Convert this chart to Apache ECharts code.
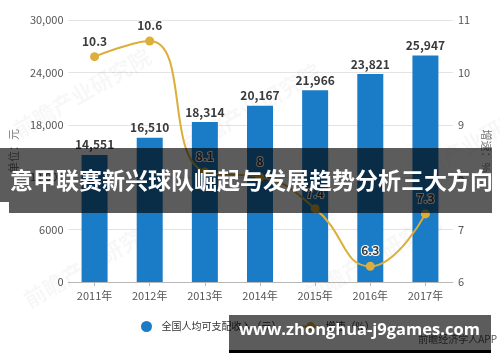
<!DOCTYPE html>
<html>
<head>
<meta charset="utf-8">
<script src="https://cdn.jsdelivr.net/npm/echarts@6/dist/echarts.min.js"></script>
<style>
html,body{margin:0;padding:0;background:#fff;}
#chart{width:500px;height:362px;}
</style>
</head>
<body>
<div id="chart"></div>
<script>
const years = ['2011年','2012年','2013年','2014年','2015年','2016年','2017年'];
const income = [14551, 16510, 18314, 20167, 21966, 23821, 25947];
const growth = [10.3, 10.6, 8.1, 8, 7.4, 6.3, 7.3];
const incomeTicks = ['0','6000','12,000','18,000','24,000','30,000'];
const growthTicks = ['6','7','8','9','10','11'];
const seriesNames = ['全国人均可支配收入（元）','增速（%）'];
const titleText = '意甲联赛新兴球队崛起与发展趋势分析三大方向';
const siteText = 'www.zhonghua-j9games.com';
const sourceText = '前瞻经济学人APP';
const watermark = '前瞻产业研究院';

const FONT = '"Noto Sans CJK SC", "Noto Sans", sans-serif';
const chart = echarts.init(document.getElementById('chart'), null, {renderer:'canvas'});

const gridTop = 20, gridBottom = 80;
const wm = (left, top) => ({type: 'text', left: left, top: top, rotation: Math.PI/6, z: 1, silent: true,
  style: {text: watermark, fontFamily: FONT, fontSize: 22, fontWeight: 'bold', fill: 'rgba(0,0,0,0.03)'}});
const option = {
  animation: false,
  textStyle: {fontFamily: FONT},
  grid: [
    {left: 58, right: 37, top: gridTop, bottom: gridBottom},
    {left: 67, right: 47, top: gridTop, bottom: gridBottom}
  ],
  legend: {
    left: 136, top: 316,
    itemWidth: 20, itemHeight: 11, itemGap: 18,
    textStyle: {fontFamily: FONT, fontSize: 10, color: '#333'},
    data: [{name: seriesNames[0], icon: 'circle'}, {name: seriesNames[1]}]
  },
  xAxis: [
    {type: 'category', gridIndex: 0, data: years, axisLabel: {show:false}, axisTick:{show:false},
     axisLine: {show: true, lineStyle: {color: '#b8b8b8', width: 1}}},
    {type: 'category', gridIndex: 1, data: years,
     axisLine: {show: false},
     axisTick: {show: true, alignWithLabel: true, length: 4, lineStyle: {color: '#b8b8b8'}},
     axisLabel: {fontFamily: FONT, fontSize: 11, color: '#555', margin: 8}}
  ],
  yAxis: [
    {type: 'value', gridIndex: 0, min: 0, max: 30000, interval: 6000, position: 'left',
     name: '单位：元', nameLocation: 'middle', nameGap: 46, nameRotate: 90,
     nameTextStyle: {fontFamily: FONT, fontSize: 11, color: '#777'},
     axisLine: {show: false}, axisTick: {show: false},
     axisLabel: {fontFamily: FONT, fontSize: 11, color: '#555', margin: 5,
       formatter: (v) => incomeTicks[Math.round(v / 6000)]},
     splitLine: {show: true, lineStyle: {color: '#e3e3e3', width: 1}}},
    {type: 'value', gridIndex: 0, min: 6, max: 11, interval: 1, position: 'right',
     name: '增速：%', nameLocation: 'middle', nameGap: 22, nameRotate: -90,
     nameTextStyle: {fontFamily: FONT, fontSize: 11, color: '#777'},
     axisLine: {show: false}, axisTick: {show: false},
     axisLabel: {fontFamily: FONT, fontSize: 11, color: '#555', margin: 5,
       formatter: (v) => growthTicks[Math.round(v - 6)]},
     splitLine: {show: false}},
    {type: 'value', gridIndex: 1, min: 0, max: 30000, show: false, splitLine:{show:false}},
    {type: 'value', gridIndex: 1, min: 6, max: 11, show: false, splitLine:{show:false}}
  ],
  series: [
    {name: seriesNames[0], type: 'bar', xAxisIndex: 1, yAxisIndex: 2, data: income,
     barWidth: 26, itemStyle: {color: '#1a7bc6'},
     label: {show: true, position: 'top', distance: 4, fontFamily: FONT, fontSize: 12, fontWeight: 'bold', color: '#3a3a3a',
       formatter: (p) => p.value.toLocaleString('en-US')}},
    {name: seriesNames[1], type: 'line', xAxisIndex: 1, yAxisIndex: 3, data: growth,
     smooth: 0.5, symbol: 'circle', symbolSize: 9,
     lineStyle: {color: '#dcae3a', width: 2}, itemStyle: {color: '#dcae3a'},
     label: {show: true, position: 'top', distance: 5, fontFamily: FONT, fontSize: 12, fontWeight: 'bold', color: '#3a3a3a',
       textBorderColor: '#fff', textBorderWidth: 2}, z: 5}
  ],
  graphic: [
    wm(10, 45), wm(180, 60), wm(400, 95), wm(20, 215), wm(300, 210),
    {type: 'text', right: 3, top: 334, z: 50, silent: true,
     style: {text: sourceText, fontFamily: FONT, fontSize: 10, fill: '#555'}},
    {type: 'rect', left: 9, top: 148, z: 100, silent: true,
     shape: {width: 483, height: 65}, style: {fill: 'rgba(0,0,0,0.64)'}},
    {type: 'rect', left: 0, top: 148, z: 100, silent: true,
     shape: {width: 9, height: 54}, style: {fill: 'rgba(0,0,0,0.64)'}},
    {type: 'text', left: 10, top: 169, z: 101, silent: true,
     style: {text: titleText, fontFamily: FONT, fontSize: 23, fontWeight: 'bold', fill: '#fff'}},
    {type: 'rect', left: 229, top: 315, z: 100, silent: true,
     shape: {width: 262, height: 35}, style: {fill: 'rgba(0,0,0,0.64)'}},
    {type: 'rect', left: 229, top: 350, z: 100, silent: true,
     shape: {width: 262, height: 3}, style: {fill: '#000'}},
    {type: 'text', left: 239, top: 322, z: 101, silent: true,
     style: {text: siteText, fontFamily: '"Open Sans", "DejaVu Sans", sans-serif', fontSize: 16.5, fontWeight: 'bold', fill: '#fff'}}
  ]
};
chart.setOption(option);
</script>
</body>
</html>
